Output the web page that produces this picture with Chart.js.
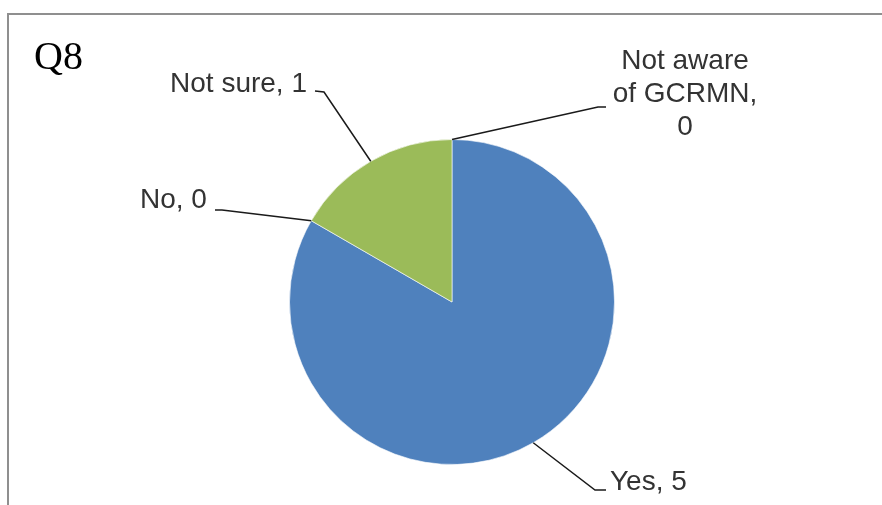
<!DOCTYPE html>
<html><head><meta charset="utf-8">
<script src="https://cdn.jsdelivr.net/npm/chart.js@4/dist/chart.umd.min.js"></script>
<style>html,body{margin:0;padding:0;background:#fff}#wrap{width:882px;height:505px;position:relative}</style>
</head><body><div id="wrap"><canvas id="c" width="882" height="505"></canvas></div>
<script>
const title = 'Q8';
const categories = ['Yes', 'No', 'Not sure', 'Not aware of GCRMN'];
const values = [5, 0, 1, 0];
const sliceColors = ['#4F81BD', '#C0504D', '#9BBB59', '#8064A2'];

// label placement (layout only)
const labelPlacement = [
  { x: 610, y: 490, align: 'left',  elbow: [[606, 490], [595, 490]] },
  { x: 140, y: 208, align: 'left',  elbow: [[215, 210], [222, 210]] },
  { x: 307, y: 92,  align: 'right', elbow: [[315, 91], [324, 92]] },
  { x: 685, y: 69,  align: 'center', elbow: [[606, 107], [598, 107]], wrap: 150 }
];

const LABEL_FONT = '28px "Liberation Sans", Arial, sans-serif';

const framePlugin = {
  id: 'frame',
  beforeDraw(chart) {
    const ctx = chart.ctx;
    ctx.save();
    ctx.fillStyle = '#fff';
    ctx.fillRect(0, 0, chart.width, chart.height);
    ctx.strokeStyle = '#8f8f8f';
    ctx.lineWidth = 2;
    ctx.beginPath();
    ctx.moveTo(882, 14);
    ctx.lineTo(8, 14);
    ctx.lineTo(8, 505);
    ctx.stroke();
    ctx.fillStyle = '#000';
    ctx.font = '40px "Liberation Serif", "Times New Roman", serif';
    ctx.textBaseline = 'alphabetic';
    ctx.textAlign = 'left';
    ctx.fillText(title, 34, 69);
    ctx.restore();
  }
};

function wrapText(ctx, text, maxW) {
  if (!maxW) return [text];
  const words = text.split(' ');
  const lines = [];
  let cur = '';
  for (const w of words) {
    const t = cur ? cur + ' ' + w : w;
    if (cur && ctx.measureText(t).width > maxW) { lines.push(cur); cur = w; }
    else cur = t;
  }
  if (cur) lines.push(cur);
  return lines;
}

const labelPlugin = {
  id: 'pieLabels',
  afterDraw(chart) {
    const ctx = chart.ctx;
    const meta = chart.getDatasetMeta(0);
    ctx.save();
    ctx.font = LABEL_FONT;
    meta.data.forEach((arc, i) => {
      const p = arc.getProps(['x', 'y', 'startAngle', 'endAngle', 'outerRadius'], true);
      const mid = (p.startAngle + p.endAngle) / 2;
      const ax = p.x + Math.cos(mid) * p.outerRadius;
      const ay = p.y + Math.sin(mid) * p.outerRadius;
      const pl = labelPlacement[i];
      // leader
      ctx.strokeStyle = '#1a1a1a';
      ctx.lineWidth = 1.5;
      ctx.beginPath();
      ctx.moveTo(pl.elbow[0][0], pl.elbow[0][1]);
      ctx.lineTo(pl.elbow[1][0], pl.elbow[1][1]);
      ctx.lineTo(ax, ay);
      ctx.stroke();
      // text
      const txt = categories[i] + ', ' + chart.data.datasets[0].data[i];
      const lines = wrapText(ctx, txt, pl.wrap);
      ctx.fillStyle = '#333';
      ctx.textAlign = pl.align;
      ctx.textBaseline = 'alphabetic';
      lines.forEach((ln, k) => ctx.fillText(ln, pl.x, pl.y + k * 33));
    });
    ctx.restore();
  }
};

new Chart(document.getElementById('c'), {
  type: 'pie',
  data: {
    labels: categories,
    datasets: [{
      data: values,
      backgroundColor: sliceColors,
      borderColor: 'rgba(255,255,255,0.6)',
      borderWidth: 1
    }]
  },
  options: {
    responsive: false,
    animation: false,
    rotation: 0,
    layout: { padding: { left: 289, right: 267, top: 139, bottom: 40 } },
    plugins: { legend: { display: false }, tooltip: { enabled: false } }
  },
  plugins: [framePlugin, labelPlugin]
});
</script>
</body></html>
